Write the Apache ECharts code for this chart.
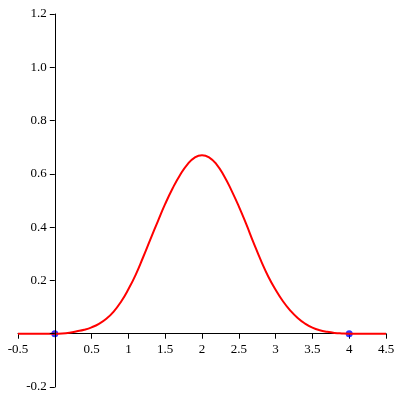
<!DOCTYPE html>
<html>
<head>
<meta charset="utf-8">
<script src="https://cdn.jsdelivr.net/npm/echarts@6/dist/echarts.min.js"></script>
<style>html,body{margin:0;padding:0;background:#fff;}#c{width:400px;height:400px;}</style>
</head>
<body>
<div id="c"></div>
<script>
var curveX = [-0.5, 0, 0.1, 0.2, 0.3, 0.4, 0.5, 0.6, 0.7, 0.8, 0.9, 1.0, 1.1, 1.2, 1.3, 1.4, 1.5, 1.6, 1.7, 1.8, 1.9, 2.0,
              2.1, 2.2, 2.3, 2.4, 2.5, 2.6, 2.7, 2.8, 2.9, 3.0, 3.1, 3.2, 3.3, 3.4, 3.5, 3.6, 3.7, 3.8, 3.9, 4.0, 4.5];
var curveY = [0, 0, 0.001, 0.004, 0.009, 0.015, 0.024, 0.037, 0.056, 0.083, 0.120, 0.167, 0.222, 0.287, 0.355, 0.422, 0.487, 0.545, 0.595, 0.635, 0.661, 0.670,
              0.661, 0.635, 0.592, 0.538, 0.478, 0.412, 0.342, 0.275, 0.215, 0.165, 0.122, 0.087, 0.059, 0.038, 0.023, 0.013, 0.007, 0.003, 0.001, 0, 0];
var pointX = [0, 4];
var pointY = [0, 0];
var xTicks = {min: -0.5, max: 4.5, interval: 0.5};
var yTicks = {min: -0.2, max: 1.2, interval: 0.2};

var W = 400, H = 400;
var G = {left: 18, right: 14, top: 14, bottom: 13};
var gw = W - G.left - G.right, gh = H - G.top - G.bottom;
// where the zero of the other axis falls, measured from the grid edge
var yAxisOffset = -(0 - xTicks.min) / (xTicks.max - xTicks.min) * gw;
var xAxisOffset = -(0 - yTicks.min) / (yTicks.max - yTicks.min) * gh;

var chart = echarts.init(document.getElementById('c'), null, {renderer: 'canvas'});
var font = {fontFamily: 'Liberation Serif', fontSize: 13, color: '#000'};
chart.setOption({
  animation: false,
  backgroundColor: '#fff',
  grid: {left: G.left, right: G.right, top: G.top, bottom: G.bottom, containLabel: false, outerBoundsMode: 'none'},
  xAxis: {
    type: 'value', min: xTicks.min, max: xTicks.max, interval: xTicks.interval, z: 1,
    position: 'bottom', offset: xAxisOffset,
    axisLine: {show: true, onZero: false, lineStyle: {color: '#000', width: 1}},
    axisTick: {show: true, length: 5, lineStyle: {color: '#000'}},
    splitLine: {show: false},
    axisLabel: Object.assign({margin: 9, formatter: function (v) { return Math.abs(v) < 1e-9 ? '' : String(+v.toFixed(1)); }}, font)
  },
  yAxis: {
    type: 'value', min: yTicks.min, max: yTicks.max, interval: yTicks.interval, z: 3,
    position: 'left', offset: yAxisOffset,
    axisLine: {show: true, onZero: false, lineStyle: {color: '#000', width: 1}},
    axisTick: {show: true, length: 5, lineStyle: {color: '#000'}},
    splitLine: {show: false},
    axisLabel: Object.assign({margin: 8, formatter: function (v) { return Math.abs(v) < 1e-9 ? '' : v.toFixed(1); }}, font)
  },
  series: [
    {
      type: 'scatter', z: 1,
      data: pointX.map(function (x, i) { return [x, pointY[i]]; }),
      symbol: 'circle', symbolSize: 7,
      itemStyle: {color: '#0000ff'}
    },
    {
      type: 'line', z: 2,
      data: curveX.map(function (x, i) { return [x, curveY[i]]; }),
      showSymbol: false, smooth: 0.5,
      lineStyle: {color: '#ff0000', width: 2}
    }
  ]
});
</script>
</body>
</html>
